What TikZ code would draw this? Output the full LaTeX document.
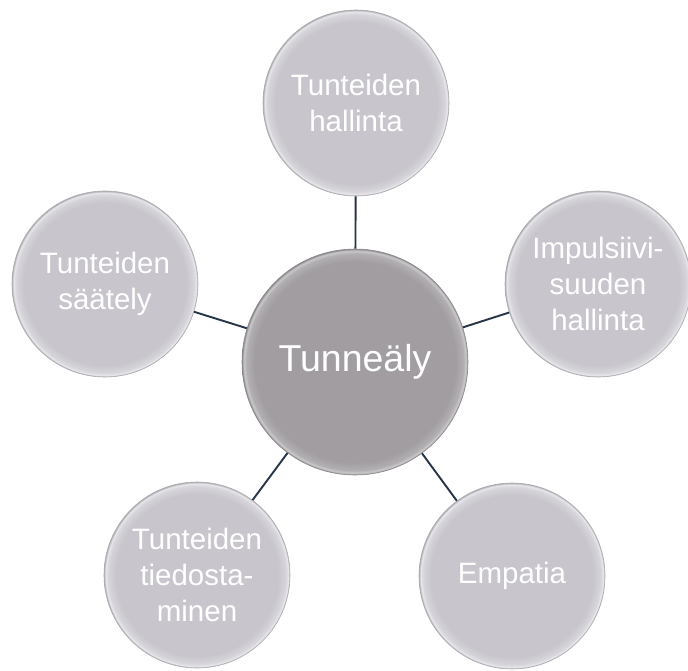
\documentclass[tikz,border=0pt]{standalone}
\usepackage{fontspec}
\setmainfont{Liberation Sans}

% palette
\definecolor{outerbase}{RGB}{200,198,204}
\definecolor{outerrim}{RGB}{214,213,218}
\definecolor{outerhi}{RGB}{232,231,235}
\definecolor{outeredge}{RGB}{172,170,175}
\definecolor{hubbase}{RGB}{161,157,161}
\definecolor{hubrim}{RGB}{178,175,179}
\definecolor{hubhi}{RGB}{205,203,206}
\definecolor{hubedge}{RGB}{138,135,139}
\definecolor{linkcol}{RGB}{38,52,72}

% bevelled disc fills: flat centre, light rim, darker outer edge
\pgfdeclareradialshading{outerbevel}{\pgfpoint{0bp}{0bp}}{%
  color(0bp)=(outerbase); color(21.8bp)=(outerbase);
  color(23.9bp)=(outerrim); color(24.6bp)=(outerhi);
  color(25bp)=(outeredge); color(50bp)=(outeredge)}
\pgfdeclareradialshading{hubbevel}{\pgfpoint{0bp}{0bp}}{%
  color(0bp)=(hubbase); color(22.2bp)=(hubbase);
  color(24.0bp)=(hubrim); color(24.6bp)=(hubhi);
  color(25bp)=(hubedge); color(50bp)=(hubedge)}

\tikzset{
  bubble/.style={circle, minimum size=186pt, inner sep=0pt,
    shading=outerbevel, draw=outeredge, line width=0.6pt,
    text=white, align=center, font=\fontsize{29.5}{36}\selectfont},
  hub/.style={circle, minimum size=226pt, inner sep=0pt,
    shading=hubbevel, draw=hubedge, line width=0.6pt,
    text=white, align=center, font=\fontsize{37.5}{44}\selectfont},
  link/.style={draw=linkcol, line width=1.9pt}
}

\begin{document}
\begin{tikzpicture}[x=1pt,y=-1pt]
  \useasboundingbox (0,0) rectangle (688,671);
  \clip (0,0) rectangle (688,671);

  \node[hub] (hub) at (355,362) {Tunneäly};

  \node[bubble] (hallinta)  at (356,103) {Tunteiden\\hallinta};
  \node[bubble] (impulssi)  at (598,284) {Impulsiivi-\\suuden\\hallinta};
  \node[bubble] (saately)   at (105,284) {Tunteiden\\säätely};
  \node[bubble] (tiedosto)  at (197,575) {Tunteiden\\tiedosta-\\minen};
  \node[bubble] (empatia)   at (512,576) {Empatia};

  \draw[link] (hub) -- (hallinta);
  \draw[link] (hub) -- (impulssi);
  \draw[link] (hub) -- (saately);
  \draw[link] (hub) -- (tiedosto);
  \draw[link] (hub) -- (empatia);
\end{tikzpicture}
\end{document}
